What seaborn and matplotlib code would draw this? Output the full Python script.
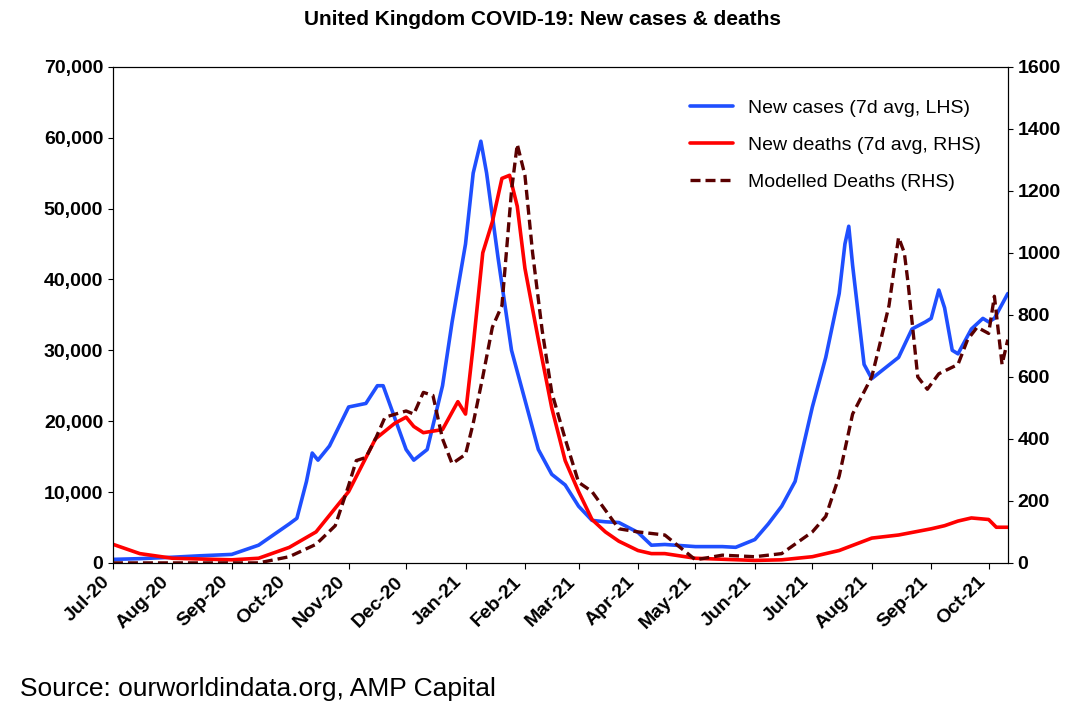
import matplotlib
matplotlib.use("Agg")
import matplotlib.pyplot as plt
import matplotlib.dates as mdates
from matplotlib.ticker import FuncFormatter, MultipleLocator
import seaborn as sns
import pandas as pd

case_dates = ["2020-07-01","2020-07-15","2020-08-01","2020-08-15","2020-09-01","2020-09-15","2020-10-01","2020-10-05","2020-10-10","2020-10-13","2020-10-16","2020-10-22","2020-11-01","2020-11-10","2020-11-16","2020-11-19","2020-11-23","2020-12-01","2020-12-05","2020-12-12","2020-12-20","2020-12-25","2021-01-01","2021-01-05","2021-01-09","2021-01-12","2021-01-18","2021-01-25","2021-02-01","2021-02-08","2021-02-15","2021-02-22","2021-03-01","2021-03-08","2021-03-15","2021-03-22","2021-04-01","2021-04-08","2021-04-15","2021-05-01","2021-05-15","2021-05-22","2021-06-01","2021-06-08","2021-06-15","2021-06-22","2021-07-01","2021-07-08","2021-07-15","2021-07-18","2021-07-20","2021-07-22","2021-07-28","2021-08-01","2021-08-08","2021-08-15","2021-08-22","2021-08-29","2021-09-01","2021-09-05","2021-09-08","2021-09-12","2021-09-15","2021-09-22","2021-09-28","2021-10-01","2021-10-04","2021-10-11"]
cases = [500,600,800,1000,1200,2500,5500,6300,11500,15500,14500,16500,22000,22500,25000,25000,22000,16000,14500,16000,25000,34000,45000,55000,59500,55000,43000,30000,23000,16000,12500,11000,8000,6000,5800,5700,4300,2500,2600,2300,2300,2200,3300,5500,8000,11500,22000,29000,38000,45000,47500,42000,28000,26000,27500,29000,33000,34000,34500,38500,36000,30000,29500,33000,34500,34000,34500,38000]

death_dates = ["2020-07-01","2020-07-15","2020-08-01","2020-09-01","2020-09-15","2020-10-01","2020-10-15","2020-11-01","2020-11-15","2020-11-25","2020-12-01","2020-12-05","2020-12-10","2020-12-20","2020-12-28","2021-01-01","2021-01-05","2021-01-10","2021-01-15","2021-01-20","2021-01-24","2021-01-28","2021-02-01","2021-02-08","2021-02-15","2021-02-22","2021-03-01","2021-03-08","2021-03-15","2021-03-22","2021-04-01","2021-04-08","2021-04-15","2021-05-01","2021-06-01","2021-06-15","2021-07-01","2021-07-15","2021-08-01","2021-08-15","2021-09-01","2021-09-08","2021-09-15","2021-09-22","2021-10-01","2021-10-05","2021-10-11"]
deaths = [60,30,15,10,15,50,100,230,400,450,470,440,420,430,520,480,700,1000,1100,1240,1250,1150,950,720,500,330,230,140,100,70,40,30,30,15,8,10,20,40,80,90,110,120,135,145,140,115,115]

model_dates = ["2020-07-01","2020-09-15","2020-10-01","2020-10-15","2020-10-25","2020-11-01","2020-11-05","2020-11-10","2020-11-15","2020-11-20","2020-12-01","2020-12-05","2020-12-10","2020-12-15","2020-12-20","2020-12-25","2021-01-01","2021-01-05","2021-01-10","2021-01-15","2021-01-20","2021-01-25","2021-01-28","2021-02-01","2021-02-05","2021-02-10","2021-02-15","2021-02-22","2021-03-01","2021-03-08","2021-03-15","2021-03-22","2021-04-01","2021-04-08","2021-04-15","2021-05-01","2021-05-15","2021-06-01","2021-06-15","2021-07-01","2021-07-08","2021-07-15","2021-07-22","2021-08-01","2021-08-05","2021-08-10","2021-08-15","2021-08-18","2021-08-20","2021-08-25","2021-08-30","2021-09-05","2021-09-15","2021-09-20","2021-09-25","2021-10-01","2021-10-04","2021-10-08","2021-10-11"]
modelled = [0,0,20,60,120,250,330,340,400,470,490,480,550,540,400,320,350,450,600,760,830,1200,1350,1250,1000,750,550,400,260,230,170,110,100,95,90,10,25,20,30,100,150,280,480,600,700,830,1050,1000,900,600,560,610,640,720,760,740,860,640,720]

df_c = pd.DataFrame({"date": pd.to_datetime(case_dates), "v": cases})
df_d = pd.DataFrame({"date": pd.to_datetime(death_dates), "v": deaths})
df_m = pd.DataFrame({"date": pd.to_datetime(model_dates), "v": modelled})

sns.set_style("white")
plt.rcParams["font.family"] = ["Liberation Sans", "DejaVu Sans"]
plt.rcParams["text.color"] = "black"
plt.rcParams["xtick.color"] = "black"
plt.rcParams["ytick.color"] = "black"

fig = plt.figure(figsize=(10.86, 7.18), dpi=100)
ax = fig.add_axes([0.104, 0.216, 0.824, 0.691])
ax2 = ax.twinx()

sns.lineplot(data=df_c, x="date", y="v", ax=ax, color="#1f4fff", lw=2.6, label="New cases (7d avg, LHS)", legend=False)
sns.lineplot(data=df_d, x="date", y="v", ax=ax2, color="#ff0000", lw=2.6, label="New deaths (7d avg, RHS)", legend=False)
sns.lineplot(data=df_m, x="date", y="v", ax=ax2, color="#5a0000", lw=2.4, ls=(0, (3, 1.5)), label="Modelled Deaths (RHS)", legend=False)

ax.set_ylim(0, 70000)
ax2.set_ylim(0, 1600)
ax.set_xlim(pd.Timestamp("2020-07-01"), pd.Timestamp("2021-10-11"))
ax.yaxis.set_major_locator(MultipleLocator(10000))
ax.yaxis.set_major_formatter(FuncFormatter(lambda v, p: f"{int(v):,}"))
ax2.yaxis.set_major_locator(MultipleLocator(200))
ax.xaxis.set_major_locator(mdates.MonthLocator())
ax.xaxis.set_major_formatter(mdates.DateFormatter("%b-%y"))
for a in (ax, ax2):
    a.set_xlabel(""); a.set_ylabel("")
    for s in a.spines.values():
        s.set_color("black"); s.set_linewidth(0.8)
    a.tick_params(labelsize=14, colors="black")
    for t in a.get_yticklabels():
        t.set_fontweight("bold")
for t in ax.get_xticklabels():
    t.set_rotation(45); t.set_ha("right"); t.set_fontweight("bold")
ax.tick_params(axis="x", length=4, direction="out", bottom=True)

h1, l1 = ax.get_legend_handles_labels()
h2, l2 = ax2.get_legend_handles_labels()
leg = ax2.legend(h1 + h2, l1 + l2, loc="upper right", bbox_to_anchor=(0.99, 0.97), frameon=False,
                 fontsize=14, handlelength=2.2, labelspacing=1.0)
for t in leg.get_texts():
    t.set_color("black")

fig.text(0.5, 0.965, "United Kingdom COVID-19: New cases & deaths", ha="center", fontsize=15, fontweight="bold", color="black")
fig.text(0.018, 0.03, "Source: ourworldindata.org, AMP Capital", fontsize=19, color="black")
fig.savefig("out.png", dpi=100)
